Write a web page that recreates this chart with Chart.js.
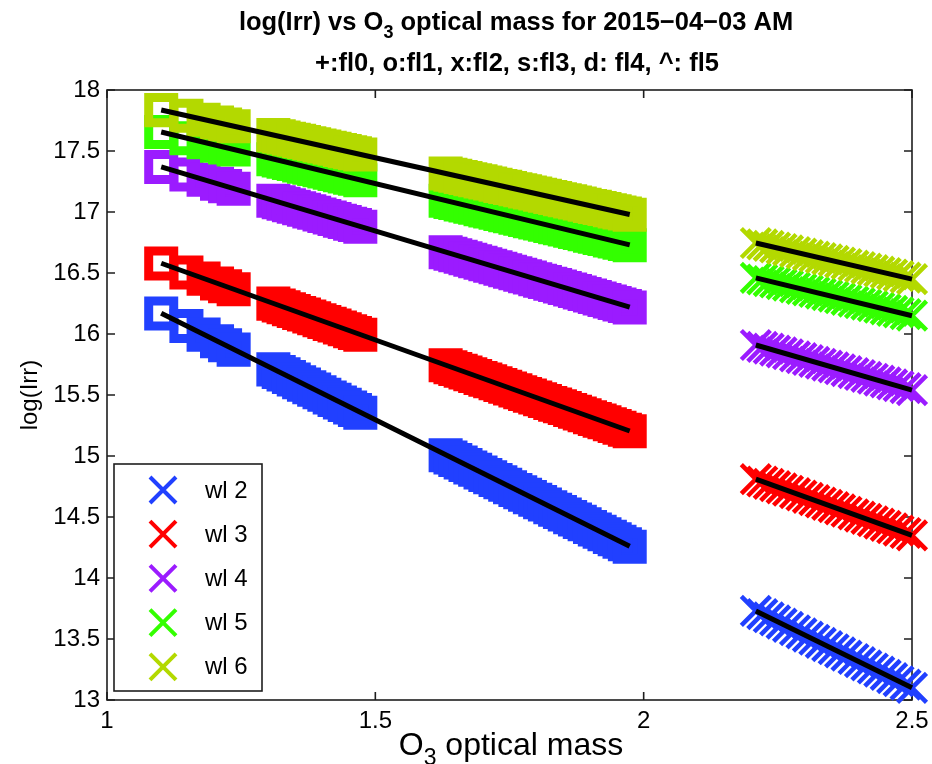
<!DOCTYPE html>
<html>
<head>
<meta charset="utf-8">
<script src="https://cdn.jsdelivr.net/npm/chart.js@4.4.0/dist/chart.umd.min.js"></script>
<style>
  html, body { margin: 0; padding: 0; background: #fff; }
</style>
</head>
<body>
<canvas id="plot" width="932" height="764"></canvas>
<script>
// O3 optical mass of each sample (square markers: fl3, cross markers: fl2)
const massSquares = [
    1.101, 1.148, 1.180, 1.205, 1.220, 1.236,
    1.310, 1.320, 1.329, 1.339, 1.348, 1.358, 1.367, 1.377, 1.386, 1.396, 1.405, 1.415, 1.424, 1.434, 1.443, 1.453, 1.462, 1.472,
    1.631, 1.640, 1.649, 1.659, 1.668, 1.677, 1.686, 1.696, 1.705, 1.714, 1.724, 1.733, 1.742, 1.751, 1.761, 1.770, 1.779, 1.788, 1.798,
    1.807, 1.816, 1.826, 1.835, 1.844, 1.853, 1.863, 1.872, 1.881, 1.890, 1.900, 1.909, 1.918, 1.927, 1.937, 1.946, 1.955, 1.965, 1.974
];
const massCrosses = [2.209, 2.221, 2.233, 2.245, 2.257, 2.269, 2.282, 2.294, 2.306, 2.318, 2.330, 2.342, 2.354,
    2.366, 2.378, 2.391, 2.403, 2.415, 2.427, 2.439, 2.451, 2.463, 2.475, 2.488, 2.500];

// log(Irr) for the squares
const sqWl2 = [
    16.168, 16.065, 15.995, 15.940, 15.907, 15.872,
    15.710, 15.688, 15.669, 15.647, 15.627, 15.605, 15.585, 15.563, 15.544, 15.522, 15.502, 15.480, 15.460, 15.439, 15.419, 15.397, 15.377, 15.355,
    15.007, 14.987, 14.968, 14.946, 14.926, 14.906, 14.887, 14.865, 14.845, 14.825, 14.803, 14.784, 14.764, 14.744, 14.722, 14.703, 14.683, 14.663, 14.641,
    14.622, 14.602, 14.580, 14.560, 14.541, 14.521, 14.499, 14.479, 14.460, 14.440, 14.418, 14.398, 14.379, 14.359, 14.337, 14.317, 14.298, 14.276, 14.256
];
const sqWl3 = [
    16.578, 16.504, 16.454, 16.414, 16.391, 16.366,
    16.249, 16.233, 16.219, 16.203, 16.189, 16.173, 16.159, 16.143, 16.129, 16.113, 16.099, 16.083, 16.069, 16.053, 16.039, 16.023, 16.009, 15.993,
    15.743, 15.728, 15.714, 15.698, 15.684, 15.670, 15.656, 15.640, 15.626, 15.612, 15.596, 15.582, 15.568, 15.553, 15.538, 15.523, 15.509, 15.495, 15.479,
    15.465, 15.451, 15.435, 15.421, 15.407, 15.393, 15.377, 15.363, 15.348, 15.334, 15.318, 15.304, 15.290, 15.276, 15.260, 15.246, 15.232, 15.216, 15.202
];
const sqWl4 = [
    17.369, 17.307, 17.264, 17.232, 17.212, 17.191,
    17.093, 17.080, 17.068, 17.055, 17.043, 17.030, 17.018, 17.005, 16.993, 16.980, 16.968, 16.955, 16.943, 16.929, 16.918, 16.904, 16.893, 16.879,
    16.670, 16.658, 16.646, 16.633, 16.621, 16.609, 16.597, 16.584, 16.572, 16.560, 16.547, 16.535, 16.523, 16.511, 16.498, 16.486, 16.474, 16.463, 16.449,
    16.437, 16.426, 16.412, 16.401, 16.389, 16.377, 16.364, 16.352, 16.340, 16.328, 16.315, 16.303, 16.291, 16.279, 16.266, 16.254, 16.242, 16.229, 16.217
];
const sqWl5 = [
    17.655, 17.605, 17.571, 17.544, 17.529, 17.512,
    17.433, 17.422, 17.413, 17.402, 17.393, 17.382, 17.372, 17.362, 17.352, 17.342, 17.332, 17.321, 17.312, 17.301, 17.292, 17.281, 17.272, 17.261,
    17.092, 17.083, 17.073, 17.062, 17.053, 17.043, 17.034, 17.023, 17.013, 17.004, 16.993, 16.984, 16.974, 16.965, 16.954, 16.944, 16.935, 16.925, 16.915,
    16.905, 16.896, 16.885, 16.875, 16.866, 16.856, 16.846, 16.836, 16.827, 16.817, 16.806, 16.797, 16.787, 16.778, 16.767, 16.758, 16.748, 16.737, 16.728
];
const sqWl6 = [
    17.835, 17.789, 17.757, 17.733, 17.718, 17.702,
    17.630, 17.620, 17.611, 17.601, 17.592, 17.583, 17.574, 17.564, 17.555, 17.545, 17.536, 17.527, 17.518, 17.508, 17.499, 17.489, 17.481, 17.471,
    17.315, 17.306, 17.297, 17.287, 17.278, 17.269, 17.261, 17.251, 17.242, 17.233, 17.223, 17.214, 17.206, 17.197, 17.187, 17.178, 17.169, 17.160, 17.151,
    17.142, 17.133, 17.123, 17.114, 17.105, 17.097, 17.087, 17.078, 17.069, 17.060, 17.050, 17.042, 17.033, 17.024, 17.014, 17.005, 16.996, 16.987, 16.978
];

// log(Irr) for the crosses
const crWl2 = [13.730, 13.704, 13.678, 13.652, 13.626, 13.600, 13.572, 13.546, 13.520, 13.494, 13.468, 13.442, 13.416,
    13.390, 13.364, 13.336, 13.310, 13.284, 13.258, 13.232, 13.206, 13.180, 13.154, 13.126, 13.100];
const crWl3 = [14.810, 14.791, 14.772, 14.753, 14.734, 14.715, 14.695, 14.676, 14.657, 14.638, 14.619, 14.600, 14.581,
    14.562, 14.543, 14.522, 14.503, 14.484, 14.465, 14.446, 14.427, 14.408, 14.389, 14.369, 14.350];
const crWl4 = [15.910, 15.895, 15.880, 15.864, 15.849, 15.834, 15.817, 15.802, 15.787, 15.772, 15.756, 15.741, 15.726,
    15.711, 15.695, 15.679, 15.664, 15.648, 15.633, 15.618, 15.603, 15.587, 15.572, 15.556, 15.540];
const crWl5 = [16.460, 16.447, 16.434, 16.422, 16.409, 16.396, 16.382, 16.369, 16.357, 16.344, 16.331, 16.318, 16.306,
    16.293, 16.280, 16.266, 16.253, 16.241, 16.228, 16.215, 16.202, 16.189, 16.177, 16.163, 16.150];
const crWl6 = [16.746, 16.734, 16.722, 16.709, 16.697, 16.685, 16.672, 16.660, 16.647, 16.635, 16.623, 16.611, 16.599,
    16.586, 16.574, 16.561, 16.549, 16.536, 16.524, 16.512, 16.500, 16.488, 16.475, 16.462, 16.450];

// fitted lines: [start, end] over each mass range
const fitMassSq = [1.101, 1.974];
const fitMassCr = [2.209, 2.500];
const fitSqWl = [[16.17, 14.26], [16.58, 15.205], [17.37, 16.22], [17.656, 16.73], [17.836, 16.98]];
const fitCrWl = [[13.73, 13.10], [14.81, 14.35], [15.91, 15.54], [16.46, 16.15], [16.746, 16.45]];

const wlNames = ['wl 2', 'wl 3', 'wl 4', 'wl 5', 'wl 6'];
const wlColors = ['#2140ff', '#ff0000', '#9b1bff', '#33ff00', '#b3d900'];
const massTicks = [1, 1.5, 2, 2.5];
const irrTicks = [13, 13.5, 14, 14.5, 15, 15.5, 16, 16.5, 17, 17.5, 18];

const FONT = '"Liberation Sans", Arial, Helvetica, sans-serif';
const sqSeries = [sqWl2, sqWl3, sqWl4, sqWl5, sqWl6];
const crSeries = [crWl2, crWl3, crWl4, crWl5, crWl6];

const datasets = [];
wlNames.forEach((name, i) => {
    datasets.push({
        label: name,
        data: massSquares.map((m, k) => ({ x: m, y: sqSeries[i][k] })),
        pointStyle: 'rect',
        pointRadius: 17.7,
        pointBorderWidth: 9,
        pointBorderColor: wlColors[i],
        pointBackgroundColor: 'rgba(0,0,0,0)',
        order: 5 - i,
        clip: false
    });
    datasets.push({
        label: name,
        data: massCrosses.map((m, k) => ({ x: m, y: crSeries[i][k] })),
        pointStyle: 'crossRot',
        pointRadius: 20.5,
        pointBorderWidth: 4.5,
        pointBorderColor: wlColors[i],
        order: 5 - i,
        clip: false
    });
    [[fitMassSq, fitSqWl[i]], [fitMassCr, fitCrWl[i]]].forEach(([ms, ys]) => {
        datasets.push({
            label: name + ' fit',
            data: ms.map((m, k) => ({ x: m, y: ys[k] })),
            showLine: true,
            borderColor: '#000',
            borderWidth: 5,
            pointRadius: 0,
            order: 0,
            clip: false
        });
    });
});

// draws text with subscript parts, centred on cx
function drawParts(ctx, parts, cx, baseline, size, bold) {
    const w = bold ? 'bold ' : '';
    const mainFont = w + size + 'px ' + FONT;
    const subFont = w + Math.round(size * 0.72) + 'px ' + FONT;
    let total = 0;
    parts.forEach(p => {
        ctx.font = p.sub ? subFont : mainFont;
        p.w = ctx.measureText(p.t).width;
        total += p.w;
    });
    let xx = cx - total / 2;
    ctx.textAlign = 'left';
    ctx.textBaseline = 'alphabetic';
    parts.forEach(p => {
        ctx.font = p.sub ? subFont : mainFont;
        ctx.fillText(p.t, xx, baseline + (p.sub ? size * 0.32 : 0));
        xx += p.w;
    });
}

const matlabBox = {
    id: 'matlabBox',
    beforeDatasetsDraw(chart) {
        const { ctx, chartArea: a, scales: { x, y } } = chart;
        ctx.save();
        ctx.strokeStyle = '#1e1e1e';
        ctx.lineWidth = 1.6;
        ctx.strokeRect(a.left, a.top, a.right - a.left, a.bottom - a.top);
        ctx.beginPath();
        massTicks.forEach(v => {
            const px = x.getPixelForValue(v);
            ctx.moveTo(px, a.bottom); ctx.lineTo(px, a.bottom - 8);
            ctx.moveTo(px, a.top); ctx.lineTo(px, a.top + 8);
        });
        irrTicks.forEach(v => {
            const py = y.getPixelForValue(v);
            ctx.moveTo(a.left, py); ctx.lineTo(a.left + 8, py);
            ctx.moveTo(a.right, py); ctx.lineTo(a.right - 8, py);
        });
        ctx.stroke();
        ctx.restore();
    },
    afterDatasetsDraw(chart) {
        const { ctx, chartArea: a } = chart;
        // legend box, lower left inside the axes
        const bx = a.left + 7, bw = 148, bh = 227, by = a.bottom - 9 - bh;
        ctx.save();
        ctx.fillStyle = '#fff';
        ctx.fillRect(bx, by, bw, bh);
        ctx.strokeStyle = '#1e1e1e';
        ctx.lineWidth = 1.6;
        ctx.strokeRect(bx, by, bw, bh);
        ctx.font = '24px ' + FONT;
        ctx.textBaseline = 'middle';
        ctx.textAlign = 'left';
        wlNames.forEach((name, i) => {
            const cy = by + 26 + i * 44.2;
            const cx = bx + 49;
            const d = 13;
            ctx.strokeStyle = wlColors[i];
            ctx.lineWidth = 4;
            ctx.beginPath();
            ctx.moveTo(cx - d, cy - d); ctx.lineTo(cx + d, cy + d);
            ctx.moveTo(cx - d, cy + d); ctx.lineTo(cx + d, cy - d);
            ctx.stroke();
            ctx.fillStyle = '#000';
            ctx.fillText(name, bx + 91, cy + 1);
        });
        ctx.restore();
    },
    afterDraw(chart) {
        const { ctx, chartArea: a } = chart;
        ctx.save();
        ctx.fillStyle = '#000';
        drawParts(ctx, [{ t: 'log(Irr) vs O' }, { t: '3', sub: true }, { t: ' optical mass for 2015\u221204\u221203 AM' }],
            516, 30, 25.5, true);
        drawParts(ctx, [{ t: '+:fl0, o:fl1, x:fl2, s:fl3, d: fl4, ^: fl5' }], 517, 71, 25.5, true);
        drawParts(ctx, [{ t: 'O' }, { t: '3', sub: true }, { t: ' optical mass' }], 511, 755, 32, false);
        ctx.translate(37, (a.top + a.bottom) / 2);
        ctx.rotate(-Math.PI / 2);
        drawParts(ctx, [{ t: 'log(Irr)' }], 0, 0, 24, false);
        ctx.restore();
    }
};

new Chart(document.getElementById('plot').getContext('2d'), {
    type: 'scatter',
    data: { datasets },
    options: {
        responsive: false,
        animation: false,
        events: [],
        layout: { autoPadding: false, padding: { left: 0, right: 20, top: 90, bottom: 0 } },
        plugins: { legend: { display: false }, tooltip: { enabled: false } },
        scales: {
            x: {
                type: 'linear', min: 1, max: 2.5,
                afterBuildTicks: s => { s.ticks = massTicks.map(v => ({ value: v })); },
                afterFit: s => { s.height = 64; s.paddingLeft = 0; s.paddingRight = 0; },
                ticks: { callback: v => String(v), font: { family: FONT, size: 24 }, color: '#000', padding: 7, maxRotation: 0, autoSkip: false },
                grid: { display: false, drawTicks: false },
                border: { display: false }
            },
            y: {
                type: 'linear', min: 13, max: 18,
                afterBuildTicks: s => { s.ticks = irrTicks.map(v => ({ value: v })); },
                afterFit: s => { s.width = 107; s.paddingTop = 0; s.paddingBottom = 0; },
                ticks: { callback: v => String(v), font: { family: FONT, size: 24 }, color: '#000', padding: 7, autoSkip: false },
                grid: { display: false, drawTicks: false },
                border: { display: false }
            }
        }
    },
    plugins: [matlabBox]
});
</script>
</body>
</html>
